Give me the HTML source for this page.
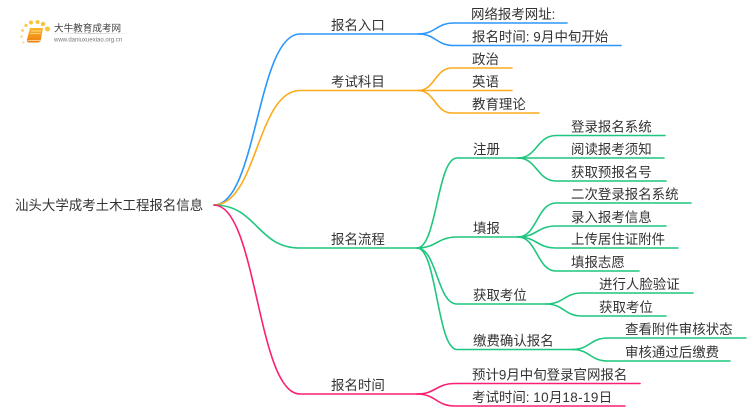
<!DOCTYPE html>
<html><head><meta charset="utf-8"><style>
html,body{margin:0;padding:0;background:#fff;width:750px;height:410px;overflow:hidden}
svg{display:block}
text{font-family:"Liberation Sans","Noto Sans CJK SC",sans-serif;font-size:13.45px;fill:#333}
path{fill:none;stroke-width:1.6;stroke-linecap:round}
.b path{stroke:#2b96fb}.o path{stroke:#fbab1c}.g path{stroke:#1fc67f}.p path{stroke:#fb1e73}
</style></head><body>
<svg width="750" height="410" viewBox="0 0 750 410" xmlns="http://www.w3.org/2000/svg">
<defs><linearGradient id="u" x1="0" x2="1" y1="0" y2="0"><stop offset="0" stop-color="#ddd" stop-opacity=".2"/><stop offset=".5" stop-color="#ccc"/><stop offset="1" stop-color="#ddd" stop-opacity="0"/></linearGradient>
<linearGradient id="bk" x1="0" x2="0" y1="0" y2="1"><stop offset="0" stop-color="#fbb62a"/><stop offset="1" stop-color="#ee7d10"/></linearGradient></defs>
<!-- logo -->
<g fill="#fbc23c">
<circle cx="47.500" cy="29" r="2.500"/><circle cx="43" cy="24" r="2.200"/><circle cx="37.500" cy="22" r="2"/><circle cx="31" cy="22.500" r="2"/><circle cx="26" cy="25.500" r="1.600" opacity=".9"/><circle cx="22.500" cy="30.500" r="1.400" opacity=".8"/><circle cx="21.500" cy="36.500" r="1.200" opacity=".7"/><circle cx="23.500" cy="42.500" r="1.100" opacity=".6"/>
</g>
<path d="M30,28 L43,28 L41,39 Q40.500,42.500 38,42.500 L29,42.500 Q26.500,42.500 27,39.500 Z" style="fill:url(#bk);stroke:none"/>
<path d="M31,31 L41,31 M30.500,33.500 L40.500,33.500" style="stroke:#fde3a0;stroke-width:.7"/>
<path d="M28,40.500 L40,40.500" style="stroke:#fde9c0;stroke-width:.8"/>
<rect x="52" y="33" width="82" height="1" fill="url(#u)"/>
<text x="54" y="31.500" style="font-size:9.600px;fill:#444">大牛教育成考网</text>
<text x="54" y="41.500" style="font-size:6px;fill:#777">www.daniuxuexiao.org.cn</text>
<!-- root -->
<text x="15" y="210">汕头大学成考土木工程报名信息</text>
<g class="b">
<path d="M214,205 C257,205 257,34 300,34 L418,34"/>
<path d="M418,34 C436,34 436,23 454,23 L567,23"/>
<path d="M418,34 C436,34 436,45.500 454,45.500 L621,45.500"/>
</g>
<g class="o">
<path d="M214,205 C257,205 257,90.500 300,90.500 L418,90.500"/>
<path d="M418,90.500 C435,90.500 435,68 452,68 L512,68"/>
<path d="M418,90.500 L512,90.500"/>
<path d="M418,90.500 C435,90.500 435,113 452,113 L539,113"/>
</g>
<g class="g">
<path d="M214,205 C257,205 257,248 300,248 L418,248"/>
<path d="M417,248 C437,248 437,158 457,158 L518,158"/>
<path d="M417,248 C437,248 437,237 457,237 L518,237"/>
<path d="M417,248 C437,248 437,304 457,304 L546,304"/>
<path d="M417,248 C437,248 437,349.500 457,349.500 L575,349.500"/>
<path d="M518,158 C537,158 537,135.500 556,135.500 L665,135.500"/>
<path d="M518,158 L664,158"/>
<path d="M518,158 C537,158 537,181 556,181 L666,181"/>
<path d="M518,237 C537,237 537,203 556,203 L691,203"/>
<path d="M518,237 C537,237 537,226 556,226 L666,226"/>
<path d="M518,237 C537,237 537,248 556,248 L678,248"/>
<path d="M518,237 C537,237 537,271 556,271 L639,271"/>
<path d="M546,304 C564,304 564,293 582,293 L693,293"/>
<path d="M546,304 C564,304 564,316 582,316 L666,316"/>
<path d="M572,349.500 C590,349.500 590,338 608,338 L746,338"/>
<path d="M572,349.500 C590,349.500 590,361 608,361 L730,361"/>
</g>
<g class="p">
<path d="M214,205 C257,205 257,394 300,394 L418,394"/>
<path d="M417,394 C436,394 436,383.500 455,383.500 L640,383.500"/>
<path d="M417,394 C436,394 436,406 455,406 L625,406"/>
</g>
<text x="331" y="30">报名入口</text>
<text x="331" y="86.500">考试科目</text>
<text x="331" y="244">报名流程</text>
<text x="331" y="390">报名时间</text>
<text x="471" y="19">网络报考网址:</text>
<text x="472" y="41.500">报名时间: <tspan letter-spacing=".3">9</tspan>月中旬开始</text>
<text x="472" y="64">政治</text>
<text x="472" y="86.500">英语</text>
<text x="472" y="109">教育理论</text>
<text x="473" y="154">注册</text>
<text x="473" y="233">填报</text>
<text x="473" y="300">获取考位</text>
<text x="473" y="345.500">缴费确认报名</text>
<text x="571" y="131.500">登录报名系统</text>
<text x="571" y="154">阅读报考须知</text>
<text x="571" y="177">获取预报名号</text>
<text x="571" y="199">二次登录报名系统</text>
<text x="571" y="222">录入报考信息</text>
<text x="571" y="244">上传居住证附件</text>
<text x="571" y="267">填报志愿</text>
<text x="599" y="289">进行人脸验证</text>
<text x="599" y="312">获取考位</text>
<text x="625" y="334">查看附件审核状态</text>
<text x="625" y="357">审核通过后缴费</text>
<text x="472" y="379.500">预计9月中旬登录官网报名</text>
<text x="472" y="402">考试时间: <tspan letter-spacing=".4">10</tspan>月<tspan letter-spacing=".4">18-19</tspan>日</text>
</svg>
</body></html>
